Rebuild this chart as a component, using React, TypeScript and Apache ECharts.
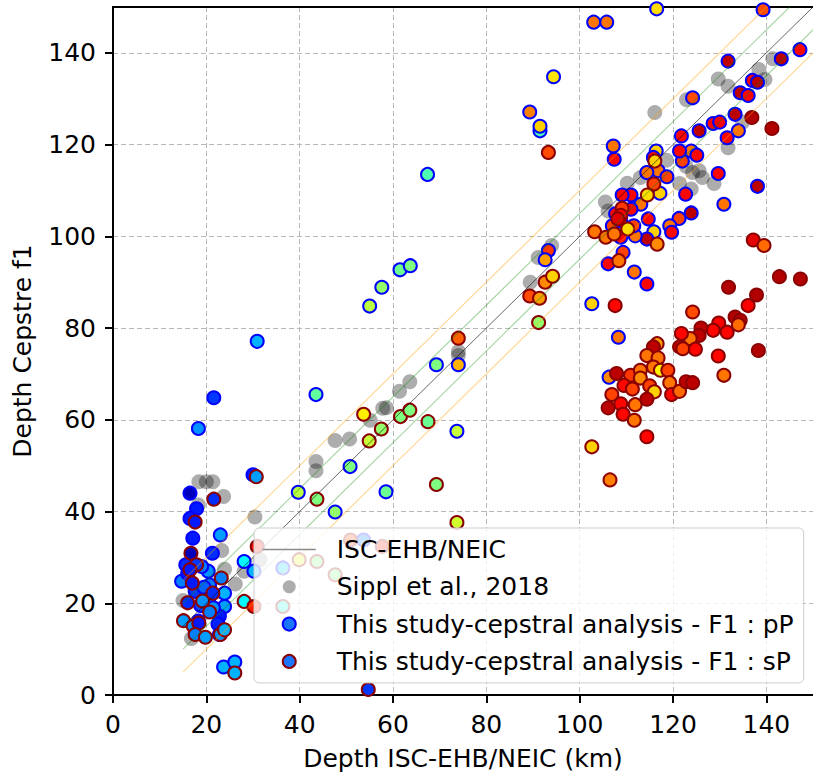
import React, { useEffect, useRef } from "react";
import * as echarts from "echarts";

const FONT = "DejaVu Sans";

const legendNames = [
  "ISC-EHB/NEIC",
  "Sippl et al., 2018",
  "This study-cepstral analysis - F1 : pP",
  "This study-cepstral analysis - F1 : sP",
];

// reference lines: [x, y] endpoints
const oneToOne = [[15, 15], [155, 155]];
const plus5 = [[15, 20], [155, 160]];
const minus5 = [[15, 10], [155, 150]];
const plus10 = [[15, 25], [155, 165]];
const minus10 = [[15, 5], [155, 145]];

// Sippl et al., 2018 : [ISC depth, cepstral depth]
const sipplData = [
  [16.8, 12.3], [15.0, 20.6], [18.3, 41.4], [18.4, 46.5], [20.0, 46.5], [21.4, 46.5],
  [23.7, 43.3], [23.3, 31.5], [23.9, 27.4], [26.2, 24.2], [28.1, 27.0], [30.4, 38.8],
  [31.5, 29.5], [43.5, 50.9], [43.5, 48.9], [47.6, 55.5], [50.7, 55.8], [55.1, 59.9],
  [57.8, 62.5], [58.6, 62.6], [61.4, 66.2], [63.6, 68.3], [74.0, 74.9], [74.0, 74.0],
  [89.4, 90.0], [91.1, 95.4], [94.0, 98.0], [105.5, 107.5], [106.1, 105.5], [110.2, 111.6],
  [113.0, 112.8], [114.4, 113.9], [116.1, 127.0], [118.6, 116.6], [121.4, 111.5], [122.8, 115.3],
  [123.9, 110.3], [124.2, 113.9], [125.6, 114.3], [126.3, 112.8], [128.8, 111.5], [131.8, 119.3],
  [134.9, 124.9], [122.9, 129.8], [129.7, 134.3], [131.8, 132.7], [138.4, 136.4], [139.7, 134.2],
  [141.4, 138.7],
];

// pP picks : [ISC depth, cepstral depth, colour value 0..1]
const pPData = [
  [16.5, 44.0, 0.06], [17.9, 40.6, 0.15], [16.5, 38.5, 0.15], [17.1, 34.2, 0.15], [23.0, 34.9, 0.28],
  [21.3, 30.9, 0.17], [15.6, 28.4, 0.17], [14.7, 24.8, 0.25], [20.4, 27.0, 0.27], [20.7, 24.0, 0.25],
  [23.9, 22.2, 0.3], [23.9, 19.3, 0.28], [22.8, 17.2, 0.15], [18.3, 16.1, 0.15], [17.6, 22.6, 0.18],
  [19.5, 23.5, 0.22], [20.5, 21.0, 0.25], [18.8, 19.5, 0.2], [21.5, 19.0, 0.27], [22.5, 15.5, 0.16],
  [16.0, 26.5, 0.15], [19.0, 28.0, 0.25], [22.8, 13.2, 0.15], [28.1, 29.1, 0.37], [30.0, 48.0, 0.15],
  [23.7, 6.1, 0.3], [26.1, 7.2, 0.3], [21.6, 64.8, 0.18], [18.3, 58.1, 0.27], [30.9, 77.1, 0.3],
  [30.2, 27.0, 0.3], [36.4, 27.7, 0.33], [53.7, 33.8, 0.25],
  [43.5, 65.5, 0.47], [39.7, 44.2, 0.56], [47.6, 39.9, 0.52], [50.8, 49.8, 0.5], [58.5, 44.3, 0.48],
  [55.0, 84.8, 0.56], [57.6, 88.9, 0.52], [61.5, 92.7, 0.48], [63.7, 93.6, 0.5], [67.4, 113.5, 0.45],
  [69.3, 72.0, 0.5], [74.0, 72.0, 0.7], [73.7, 57.5, 0.57], [93.3, 96.9, 0.82], [92.6, 94.9, 0.72],
  [89.3, 127.1, 0.75], [91.5, 123.0, 0.45], [91.5, 124.0, 0.67], [94.4, 134.8, 0.65], [103.0, 146.7, 0.76],
  [105.8, 146.7, 0.76], [116.5, 149.6, 0.66], [139.3, 149.4, 0.8],
  [131.8, 138.2, 0.94], [143.2, 138.7, 0.94], [147.2, 140.7, 0.87], [124.2, 130.2, 0.8], [137.0, 134.0, 0.88],
  [138.1, 133.6, 0.94], [134.4, 131.3, 0.94], [136.1, 130.7, 0.87], [133.3, 126.6, 0.94], [107.2, 119.7, 0.76],
  [107.4, 116.8, 0.87], [121.8, 121.9, 0.87], [125.6, 123.0, 0.94], [128.6, 124.6, 0.87], [130.0, 124.9, 0.88],
  [134.0, 123.0, 0.76], [131.6, 121.5, 0.87], [123.9, 118.6, 0.76], [125.1, 117.7, 0.87], [122.0, 116.4, 0.81],
  [121.4, 118.6, 0.87], [116.4, 118.6, 0.67], [115.8, 117.2, 0.87], [116.8, 114.3, 0.76], [114.4, 113.9, 0.76],
  [118.7, 113.0, 0.81], [129.7, 113.7, 0.87], [117.2, 109.4, 0.67], [111.0, 109.0, 0.87], [109.1, 109.0, 0.87],
  [113.1, 107.0, 0.76], [107.7, 104.9, 0.87], [111.0, 105.9, 0.87], [122.7, 109.2, 0.87], [130.9, 107.0, 0.76],
  [123.9, 105.1, 0.94], [121.3, 103.9, 0.81], [119.3, 102.3, 0.76], [119.7, 100.9, 0.87], [114.7, 103.8, 0.87],
  [115.9, 101.0, 0.67], [114.4, 99.4, 0.94], [111.9, 100.1, 0.76], [111.6, 102.3, 0.81], [108.8, 102.7, 0.76],
  [107.0, 102.3, 0.81], [108.8, 99.8, 0.87], [109.3, 96.5, 0.81], [106.1, 94.0, 0.87], [111.7, 92.2, 0.76],
  [114.4, 89.6, 0.87], [138.1, 110.9, 0.94], [102.6, 85.3, 0.67], [108.3, 78.0, 0.76], [106.3, 69.3, 0.74],
  [108.8, 103.4, 0.87],
];

// sP picks : [ISC depth, cepstral depth, colour value 0..1]
const sPData = [
  [21.6, 42.7, 0.17], [17.6, 37.7, 0.15], [16.7, 30.9, 0.06], [17.9, 28.4, 0.18], [16.5, 27.3, 0.15],
  [17.0, 24.4, 0.15], [23.2, 25.5, 0.25], [16.0, 20.1, 0.17], [21.4, 22.2, 0.17], [19.2, 20.5, 0.27],
  [20.7, 18.1, 0.25], [15.1, 16.2, 0.28], [17.2, 15.0, 0.27], [18.4, 15.7, 0.15], [17.6, 13.2, 0.25],
  [19.8, 12.6, 0.28], [23.0, 13.2, 0.27], [23.9, 14.2, 0.3], [28.1, 20.4, 0.37], [26.1, 4.8, 0.3],
  [30.7, 47.6, 0.28], [54.7, 1.2, 0.18], [30.9, 32.4, 0.85], [30.2, 19.3, 0.85], [36.4, 19.3, 0.4],
  [39.9, 29.5, 0.6], [43.7, 29.1, 0.5], [47.6, 26.2, 0.5], [50.9, 33.8, 0.8], [57.7, 32.4, 0.85],
  [43.7, 42.7, 0.5], [53.7, 61.2, 0.64], [54.9, 55.4, 0.57], [57.5, 58.0, 0.52], [61.6, 60.7, 0.5],
  [63.6, 62.1, 0.5], [67.5, 59.6, 0.48], [69.3, 45.9, 0.5], [73.7, 37.6, 0.58], [74.0, 77.8, 0.78],
  [91.2, 81.2, 0.52], [89.3, 87.0, 0.8], [91.4, 86.5, 0.72], [92.6, 90.0, 0.74], [94.2, 91.3, 0.67],
  [93.3, 118.3, 0.8],
  [136.9, 125.9, 0.95], [141.2, 123.5, 0.95], [116.1, 116.4, 0.67], [115.9, 111.4, 0.81], [114.5, 109.0, 0.66],
  [109.1, 106.1, 0.82], [108.8, 104.6, 0.87], [108.2, 103.8, 0.9], [116.6, 98.3, 0.74], [110.3, 101.6, 0.66],
  [103.2, 101.0, 0.76], [105.6, 99.8, 0.76], [107.4, 100.5, 0.76], [108.4, 94.7, 0.76], [137.2, 99.2, 0.9],
  [139.5, 98.0, 0.77], [142.8, 91.2, 0.95], [147.3, 90.7, 0.95], [131.9, 88.9, 0.95], [137.9, 87.2, 0.95],
  [136.1, 84.9, 0.88], [107.6, 84.9, 0.87], [124.2, 83.5, 0.8], [133.3, 82.4, 0.95], [134.4, 81.7, 0.95],
  [134.0, 80.7, 0.77], [129.8, 81.1, 0.88], [131.6, 79.1, 0.87], [128.6, 79.5, 0.87], [126.0, 80.0, 0.94],
  [125.6, 78.4, 0.94], [123.7, 77.7, 0.76], [121.8, 78.8, 0.87], [121.4, 75.9, 0.94], [122.1, 75.5, 0.81],
  [124.8, 75.4, 0.87], [129.7, 73.9, 0.87], [138.3, 75.1, 0.95], [130.9, 69.7, 0.76], [116.6, 76.6, 0.72],
  [115.8, 75.9, 0.94], [114.4, 74.0, 0.76], [116.8, 73.5, 0.76], [115.8, 71.5, 0.76], [117.3, 70.8, 0.64],
  [118.9, 70.8, 0.81], [119.3, 68.1, 0.76], [119.7, 65.5, 0.87], [121.4, 66.2, 0.77], [122.8, 68.3, 0.94],
  [124.2, 68.1, 0.94], [107.9, 70.1, 0.94], [110.9, 69.7, 0.82], [113.0, 70.8, 0.76], [113.0, 69.1, 0.74],
  [109.5, 67.5, 0.87], [111.3, 66.7, 0.81], [115.0, 67.4, 0.81], [116.0, 66.1, 0.67], [106.9, 65.5, 0.81],
  [108.8, 63.5, 0.87], [106.1, 62.6, 0.94], [111.9, 63.3, 0.76], [114.4, 64.5, 0.94], [109.3, 61.2, 0.87],
  [111.7, 59.9, 0.76], [114.4, 56.3, 0.87], [102.6, 54.1, 0.67], [106.5, 46.9, 0.75],
];

const jet = ["#00007f", "#0000ff", "#007fff", "#00ffff", "#7fff7f", "#ffff00", "#ff7f00", "#ff0000", "#7f0000"];

export default function App() {
  const ref = useRef<HTMLDivElement>(null);
  useEffect(() => {
    if (!ref.current) return;
    const chart = echarts.init(ref.current, undefined, { renderer: "svg" });
    const axisLine = { show: true, lineStyle: { color: "#000", width: 2 } };
    const label = { color: "#000", fontFamily: FONT, fontSize: 25 };
    const split = { show: true, lineStyle: { color: "#b8b8b8", width: 1, type: [5, 3] as any } };
    const refLine = (name: string, data: number[][], color: string, width: number) => ({
      type: "line",
      name,
      data,
      symbol: "none",
      showSymbol: false,
      z: 3,
      itemStyle: { color },
      lineStyle: { color, width },
      silent: true,
    });
    chart.setOption({
      animation: false,
      backgroundColor: "#fff",
      textStyle: { fontFamily: FONT },
      grid: { left: 113, top: 7, right: -11, bottom: 79, containLabel: false },
      xAxis: [
        {
          type: "value",
          min: 0,
          max: 150,
          interval: 20,
          name: "Depth ISC-EHB/NEIC (km)",
          nameLocation: "middle",
          nameGap: 51,
          nameTextStyle: { ...label },
          axisLine,
          axisTick: { show: true, length: 8, lineStyle: { color: "#000", width: 2 } },
          axisLabel: { ...label, margin: 17, showMaxLabel: false },
          splitLine: split,
        },
        {
          type: "value",
          position: "top",
          min: 0,
          max: 150,
          axisLine,
          axisTick: { show: false },
          axisLabel: { show: false },
          splitLine: { show: false },
        },
      ],
      yAxis: {
        type: "value",
        min: 0,
        max: 150,
        interval: 20,
        name: "Depth Cepstre f1",
        nameLocation: "middle",
        nameGap: 78,
        nameTextStyle: { ...label },
        axisLine,
        axisTick: { show: true, length: 8, lineStyle: { color: "#000", width: 2 } },
        axisLabel: { ...label, margin: 17, showMaxLabel: false },
        splitLine: split,
      },
      visualMap: {
        show: false,
        type: "continuous",
        min: 0,
        max: 1,
        dimension: 2,
        seriesIndex: [6, 7],
        inRange: { color: jet },
      },
      legend: {
        orient: "vertical",
        left: 254,
        top: 528,
        padding: [9, 10, 9, 8],
        itemWidth: 53,
        itemHeight: 13,
        itemGap: 12.3,
        selectedMode: false,
        backgroundColor: "rgba(255,255,255,0.8)",
        borderColor: "#cccccc",
        borderWidth: 1,
        borderRadius: 5,
        textStyle: { fontFamily: FONT, fontSize: 25, color: "#000", lineHeight: 25, padding: [0, 0, 0, 16] },
        data: [
          {
            name: legendNames[0],
            itemStyle: { opacity: 0 },
            lineStyle: { color: "#8a8a8a", width: 1.5, opacity: 1 },
          },
          { name: legendNames[1], itemStyle: { color: "rgba(0,0,0,0.4)", borderWidth: 0 } },
          { name: legendNames[2], itemStyle: { color: "#1a75ff", borderColor: "#0000ff", borderWidth: 2 } },
          { name: legendNames[3], itemStyle: { color: "#1a75ff", borderColor: "#8b0000", borderWidth: 2 } },
        ],
      },
      series: [
        refLine(legendNames[0], oneToOne, "rgba(0,0,0,0.6)", 1),
        refLine("plus5", plus5, "rgba(0,140,0,0.35)", 1.2),
        refLine("minus5", minus5, "rgba(0,140,0,0.35)", 1.2),
        refLine("plus10", plus10, "rgba(255,160,0,0.4)", 1.2),
        refLine("minus10", minus10, "rgba(255,160,0,0.4)", 1.2),
        {
          type: "scatter",
          name: legendNames[1],
          data: sipplData,
          symbolSize: 15,
          itemStyle: { color: "rgba(0,0,0,0.4)" },
          z: 2,
        },
        {
          type: "scatter",
          name: legendNames[2],
          data: pPData,
          symbolSize: 13,
          itemStyle: { borderColor: "#0000ff", borderWidth: 2, opacity: 1 },
          z: 2,
        },
        {
          type: "scatter",
          name: legendNames[3],
          data: sPData,
          symbolSize: 13,
          itemStyle: { borderColor: "#8b0000", borderWidth: 2, opacity: 1 },
          z: 2,
        },
      ],
    });
    return () => chart.dispose();
  }, []);
  return <div ref={ref} style={{ position: "absolute", left: 0, top: 0, width: 813, height: 776 }} />;
}
